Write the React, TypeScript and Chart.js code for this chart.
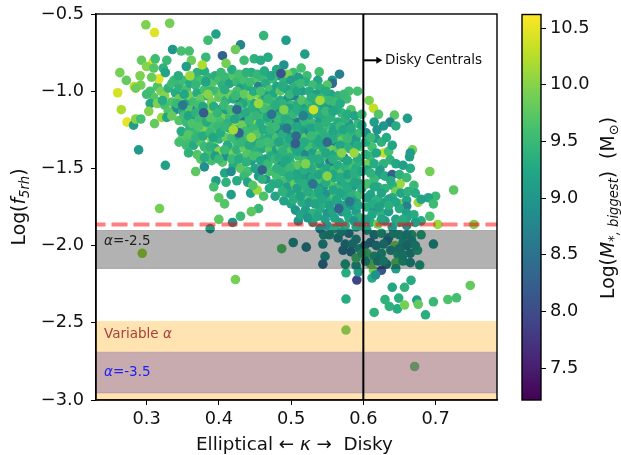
import React, { useEffect, useRef } from "react";
import { Chart, registerables } from "chart.js";

Chart.register(...registerables);

type P = [number, number, number];

// [kappa, log f5rh, log M*,biggest]
const upperLeftPoints: P[] = [
[.299,-.57,9.95],[.332,-.56,9.9],[.311,-.62,10.45],[.396,-.63,9.15],[.385,-.67,9.55],[.462,-.64,9.45],[.493,-.67,9.1],[.430,-.70,8.75],[.423,-.73,9.85],[.336,-.73,9.0],[.348,-.74,9.6],[.359,-.74,9.6],[.405,-.77,8.3],[.382,-.78,9.5],[.435,-.80,9.55],[.449,-.79,9.4],[.458,-.80,9.3],[.468,-.78,9.3],[.293,-.80,9.8],[.309,-.81,10.4],[.312,-.79,9.55],[.328,-.80,9.5],[.362,-.80,9.85],[.377,-.83,10.2],[.410,-.82,9.9],[.300,-.84,10],[.310,-.85,9.7],[.355,-.84,9.1],[.323,-.85,9.4],[.344,-.90,9.35],[.263,-.88,9.9],[.291,-.90,9.95],[.272,-.93,9.8],[.317,-.92,10.45],[.326,-.88,9.2],[.307,-.91,9.85],[.260,-1.01,10.4],[.283,-.97,10.3],[.292,-.96,9.9],[.285,-.98,9.85],[.265,-1.12,10.2],[.303,-1.13,10.0],[.273,-1.20,10.5],[.282,-1.22,9.1],[.285,-1.18,10],[.292,-1.18,9.6],[.311,-1.21,9.8],[.321,-1.17,10.1],[.328,-1.17,9.2],[.335,-1.16,9.8],[.289,-1.38,9.05],[.326,-1.48,9.15],[.368,-1.52,9.75],[.380,-1.49,8.9],[.417,-1.52,8.85],[.396,-1.58,9.1],[.393,-1.62,9.6],[.417,-1.67,9.1],[.400,-1.69,9.75],[.408,-1.73,9.7],[.444,-1.66,9.15],[.453,-1.64,10.1],[.447,-1.61,9.7],[.462,-1.68,9.65],[.318,-1.76,9.9],
];

const leftDensePoints: P[] = [
[.305,-1.0,9.6],[.31,-1.04,9.7],[.30,-1.02,9.55],[.315,-.97,9.65],[.32,-1.0,9.9],[.325,-1.03,10.0],[.33,-.98,9.4],[.335,-.95,9.55],[.34,-1.01,9.3],[.345,-.97,9.4],[.35,-.93,9.55],[.355,-.99,9.6],[.36,-.95,9.3],[.365,-.91,9.55],[.37,-.88,9.4],[.375,-.93,9.6],[.38,-.87,9.3],[.385,-.91,9.4],[.39,-.95,9.7],[.395,-.90,9.35],[.40,-.93,9.6],[.305,-1.08,9.2],[.315,-1.08,9.95],[.325,-1.09,9.6],[.335,-1.07,9.65],[.345,-1.05,9.85],[.355,-1.08,9.2],[.36,-1.03,9.9],[.365,-1.07,9.55],[.37,-1.01,9.3],[.375,-1.05,9.8],[.38,-.99,9.6],[.385,-1.03,9.2],[.39,-1.07,9.9],[.395,-1.0,9.55],[.40,-1.04,9.75],[.34,-1.12,8.9],[.35,-1.13,9.3],[.36,-1.12,9.7],[.365,-1.17,9.1],[.37,-1.12,8.3],[.375,-1.15,9.2],[.38,-1.18,9.6],[.385,-1.11,9.9],[.39,-1.15,10.0],[.395,-1.19,9.7],[.40,-1.12,9.2],[.345,-1.19,9.7],[.355,-1.2,9.5],[.36,-1.24,9.4],[.37,-1.26,9.5],[.375,-1.22,9.1],[.38,-1.25,9.95],[.385,-1.29,10.1],[.39,-1.23,9.6],[.395,-1.27,10.0],[.40,-1.31,9.4],[.35,-1.3,9.75],[.345,-1.33,9.6],[.355,-1.35,9.55],[.36,-1.31,9.6],[.365,-1.35,9.3],[.375,-1.33,9.7],[.38,-1.36,9.5],[.385,-1.4,9.6],[.39,-1.34,9.8],[.395,-1.37,9.3],[.40,-1.39,10.0],[.37,-1.41,9.7],[.375,-1.44,9.75],[.39,-1.45,9.6],[.395,-1.42,9.1],[.405,-1.46,9.7],[.41,-1.42,8.9],
[.405,-.96,9.4],[.41,-.91,9.5],[.415,-.95,9.2],[.42,-.9,9.7],[.425,-.94,9.5],[.43,-.98,9.1],[.435,-.93,9.6],[.44,-.97,9.3],[.445,-.88,9.3],[.45,-.93,9.7],[.455,-.97,8.7],[.46,-.91,9.5],[.465,-.95,9.3],[.47,-.99,9.6],[.405,-1.01,9.8],[.41,-1.06,9.4],[.415,-1.02,9.85],[.42,-1.05,9.3],[.425,-1.0,9.6],[.43,-1.06,8.55],[.435,-1.02,9.8],[.44,-1.07,9.55],[.445,-1.03,9.95],[.45,-1.08,9.25],[.455,-1.02,10.0],[.46,-1.06,9.55],[.465,-1.03,9.1],[.47,-1.08,9.8],
[.405,-1.17,9.9],[.41,-1.12,9.1],[.415,-1.17,9.55],[.42,-1.13,10.0],[.425,-1.21,10.2],[.43,-1.16,9.4],[.435,-1.2,8.45],[.44,-1.13,9.7],[.445,-1.17,9.6],[.45,-1.22,10.1],[.455,-1.13,9.2],[.46,-1.18,9.6],[.465,-1.13,9.4],[.47,-1.2,9.5],[.405,-1.25,9.95],[.41,-1.3,9.8],[.415,-1.24,9.3],[.42,-1.29,10.25],[.425,-1.33,9.5],[.43,-1.26,10.0],[.435,-1.31,9.6],[.44,-1.24,9.3],[.445,-1.28,9.8],[.45,-1.33,9.1],[.455,-1.27,9.6],[.46,-1.31,9.4],[.465,-1.25,9.8],[.47,-1.29,9.3],[.415,-1.37,9.7],[.42,-1.41,9.9],[.425,-1.38,9.4],[.43,-1.43,9.6],[.435,-1.37,9.8],[.44,-1.41,9.7],[.445,-1.45,9.1],[.45,-1.38,9.4],[.455,-1.42,9.6],[.46,-1.37,9.3],[.465,-1.44,9.1],[.47,-1.38,9.7],[.42,-1.48,9.3],[.43,-1.5,9.75],[.44,-1.52,9.6],[.45,-1.5,9.2],[.455,-1.55,9.05],[.46,-1.49,9.5],[.465,-1.57,8.9],[.47,-1.52,9.6],[.475,-1.6,9.3],[.48,-1.55,9.6],[.485,-1.47,8.6],
];

const leftFillPoints: P[] = [
[.338,-.93,9.5],[.352,-1.02,9.25],[.368,-.96,9.45],[.372,-1.09,9.6],[.382,-.94,9.2],[.388,-1.0,9.5],[.393,-1.1,9.3],[.403,-.88,9.5],[.408,-.99,9.35],[.418,-.86,9.3],[.423,-1.03,9.5],[.428,-.89,9.6],[.433,-1.08,9.25],[.438,-.88,9.4],[.443,-.94,9.55],[.448,-1.0,9.3],[.453,-.89,9.45],[.458,-1.0,9.6],[.463,-.87,9.3],[.468,-1.05,9.45],[.472,-.9,9.25],[.322,-1.06,9.3],[.33,-1.13,9.7],[.342,-1.08,9.5],[.352,-1.16,9.55],[.358,-1.16,9.2],[.363,-1.21,9.65],[.368,-1.14,9.4],[.373,-1.18,9.55],[.378,-1.1,9.25],[.383,-1.2,9.3],[.388,-1.17,9.7],[.398,-1.14,9.45],[.402,-1.2,9.6],[.407,-1.09,9.5],[.412,-1.21,9.4],[.417,-1.12,9.6],[.422,-1.18,9.2],[.427,-1.1,9.45],[.432,-1.22,9.85],[.437,-1.14,9.3],[.442,-1.19,9.5],[.447,-1.11,9.35],[.452,-1.16,9.45],[.457,-1.21,9.3],[.462,-1.11,9.6],[.467,-1.17,9.25],[.472,-1.12,9.5],
[.348,-1.26,9.3],[.358,-1.28,9.7],[.368,-1.3,9.45],[.372,-1.23,9.65],[.378,-1.29,9.3],[.388,-1.27,9.5],[.392,-1.3,9.25],[.398,-1.23,9.5],[.402,-1.27,9.3],[.408,-1.23,9.45],[.412,-1.35,9.3],[.418,-1.3,9.55],[.422,-1.25,9.4],[.428,-1.29,9.25],[.432,-1.33,9.45],[.437,-1.26,9.55],[.442,-1.35,9.3],[.448,-1.24,9.5],[.452,-1.28,9.7],[.457,-1.34,9.5],[.462,-1.25,9.3],[.467,-1.33,9.55],[.472,-1.25,9.45],[.358,-1.4,9.4],[.38,-1.43,9.35],[.388,-1.36,9.4],[.4,-1.44,9.5],[.408,-1.38,9.5],[.418,-1.44,9.5],[.428,-1.44,9.3],[.438,-1.46,9.4],[.448,-1.42,9.6],[.458,-1.45,9.25],[.468,-1.47,9.5],[.472,-1.42,9.3],[.435,-1.55,9.5],[.44,-1.59,9.2],[.46,-1.57,9.4],[.47,-1.63,9.3],[.478,-1.68,9.2],[.48,-1.5,9.4],[.478,-1.44,9.5],[.425,-1.58,9.3],[.41,-1.59,9.4],[.408,-1.53,9.25],
];

const centerDensePoints: P[] = [
[.519,-.76,9.1],[.567,-.89,8.7],[.557,-.93,9.0],[.557,-.95,8.4],[.539,-.875,9.6],[.514,-.85,9.6],[.55,-.96,9.7],[.537,-.93,9.2],[.522,-.90,9.55],[.503,-.88,9.55],[.49,-.83,8.9],[.485,-.9,8.9],[.495,-.89,9.9],[.48,-.86,9.3],[.475,-.92,9.5],[.48,-.97,9.2],[.49,-.94,9.4],[.5,-.93,9.1],[.51,-.91,9.1],[.52,-.94,9.35],[.53,-.96,9.55],[.54,-.98,9.4],[.475,-1.02,9.25],[.485,-1.0,9.75],[.495,-.99,9.2],[.505,-.97,9.4],[.515,-1.0,9.1],[.525,-1.0,9.3],[.535,-1.02,9.1],[.545,-1.04,9.6],[.555,-1.02,9.2],[.565,-1.03,9.4],[.475,-1.07,9.6],[.48,-1.12,8.9],[.485,-1.06,9.3],[.49,-1.1,9.6],[.495,-1.05,8.95],[.5,-1.09,9.5],[.505,-1.03,8.7],[.51,-1.08,9.3],[.515,-1.06,9.7],[.52,-1.11,9.1],[.525,-1.07,9.55],[.535,-1.08,9.3],[.545,-1.1,9.2],[.554,-1.09,9.05],[.56,-1.07,9.55],[.57,-1.14,9.45],[.577,-1.05,9.55],[.58,-1.0,9.6],[.592,-1.0,9.6],[.583,-1.12,9.7],
[.475,-1.16,9.7],[.48,-1.2,8.8],[.485,-1.16,9.4],[.49,-1.22,9.1],[.495,-1.14,9.7],[.5,-1.18,8.85],[.505,-1.13,9.3],[.51,-1.2,8.6],[.515,-1.15,9.5],[.52,-1.22,9.3],[.525,-1.16,9.2],[.53,-1.21,9.5],[.535,-1.15,9.4],[.54,-1.19,9.1],[.545,-1.16,9.3],[.55,-1.22,9.55],[.555,-1.17,9.4],[.56,-1.23,9.3],[.565,-1.2,9.3],[.58,-1.21,9.0],[.593,-1.21,9.5],[.575,-1.18,9.4],
[.475,-1.25,9.3],[.48,-1.3,9.6],[.485,-1.25,8.8],[.49,-1.32,9.5],[.495,-1.24,9.2],[.5,-1.29,8.75],[.505,-1.25,9.5],[.51,-1.31,9.6],[.515,-1.26,9.1],[.52,-1.3,9.75],[.525,-1.26,8.85],[.53,-1.32,9.3],[.535,-1.26,9.55],[.54,-1.31,9.2],[.545,-1.27,9.4],[.55,-1.33,9.35],[.555,-1.28,9.6],[.56,-1.33,8.6],[.565,-1.27,9.4],[.57,-1.32,9.8],[.575,-1.28,9.6],[.58,-1.33,9.3],[.585,-1.27,9.4],[.59,-1.31,9.1],[.595,-1.27,9.5],
[.475,-1.34,9.5],[.48,-1.38,9.1],[.485,-1.36,9.8],[.49,-1.41,9.3],[.495,-1.35,9.4],[.5,-1.39,9.7],[.505,-1.36,9.2],[.51,-1.42,9.5],[.515,-1.37,9.3],[.52,-1.41,8.8],[.525,-1.36,9.6],[.53,-1.4,9.1],[.535,-1.35,9.4],[.54,-1.41,9.75],[.545,-1.37,9.3],[.55,-1.43,9.55],[.555,-1.38,9.85],[.56,-1.41,9.2],[.565,-1.37,9.75],[.573,-1.43,8.5],[.554,-1.46,8.6],[.58,-1.37,9.4],[.595,-1.36,9.7],[.588,-1.33,9.1],
[.49,-1.48,9.2],[.495,-1.53,8.95],[.5,-1.47,9.6],[.505,-1.51,9.3],[.51,-1.48,9.75],[.515,-1.53,9.2],[.52,-1.48,9.45],[.525,-1.53,9.0],[.53,-1.47,9.6],[.535,-1.51,9.9],[.54,-1.47,9.1],[.545,-1.52,9.4],[.55,-1.5,9.25],[.56,-1.51,9.5],[.565,-1.48,9.3],[.57,-1.53,9.7],[.575,-1.49,9.4],[.58,-1.52,9.5],[.585,-1.47,9.6],[.59,-1.5,9.3],[.595,-1.46,9.4],
[.49,-1.58,9.6],[.495,-1.62,9.1],[.497,-1.66,9.2],[.507,-1.66,9.25],[.5,-1.57,9.4],[.505,-1.6,9.8],[.51,-1.57,9.3],[.515,-1.63,9.5],[.52,-1.58,9.1],[.525,-1.62,9.6],[.53,-1.56,9.3],[.535,-1.61,9.1],[.54,-1.57,9.6],[.545,-1.62,9.0],[.55,-1.57,9.4],[.555,-1.6,9.75],[.56,-1.56,9.3],[.565,-1.62,9.5],[.57,-1.58,9.1],[.575,-1.6,9.3],[.58,-1.56,9.6],[.585,-1.62,9.05],[.59,-1.56,9.5],[.595,-1.6,9.2],
[.49,-1.71,9.2],[.50,-1.73,9.2],[.455,-1.76,9.5],[.51,-1.68,9.6],[.515,-1.72,9.3],[.52,-1.67,9.8],[.525,-1.72,9.1],[.53,-1.67,9.4],[.535,-1.71,9.6],[.54,-1.67,9.2],[.545,-1.73,9.5],[.55,-1.67,8.95],[.555,-1.71,9.4],[.56,-1.68,9.7],[.566,-1.73,9.1],[.575,-1.68,9.3],[.585,-1.67,9.4],[.59,-1.71,9.1],[.595,-1.67,9.55],
[.506,-1.77,9.0],[.52,-1.77,9.1],[.53,-1.79,9.4],[.54,-1.76,9.3],[.55,-1.79,9.0],[.56,-1.82,9.2],[.57,-1.78,8.9],[.58,-1.82,9.3],[.59,-1.78,9.1],[.595,-1.82,9.4],
[.40,-1.83,9.75],[.388,-1.89,9.1],[.419,-1.85,8.9],[.43,-1.81,9.5],[.445,-1.78,9.75],[.51,-1.84,9.0],[.53,-1.85,9.2],[.55,-1.87,8.9],[.56,-1.89,9.3],[.575,-1.87,9.3],[.58,-1.92,8.7],[.59,-1.88,9.2],[.545,-1.93,9.1],[.565,-1.95,8.8],[.575,-1.99,8.7],[.59,-1.96,8.9],
];

const centerFillPoints: P[] = [
[.488,-.97,9.3],[.498,-1.02,9.45],[.508,-1.0,9.2],[.513,-.95,9.5],[.528,-1.04,9.35],[.538,-1.05,9.4],[.548,-1.0,9.3],[.553,-1.06,9.5],[.568,-1.08,9.3],[.573,-1.02,9.5],[.563,-1.12,9.3],[.488,-1.08,9.4],[.498,-1.11,9.2],[.503,-1.15,9.45],[.508,-1.12,9.35],[.518,-1.13,9.25],[.528,-1.11,9.4],[.538,-1.14,9.3],[.548,-1.13,9.5],[.558,-1.13,9.25],[.578,-1.15,9.3],[.588,-1.16,9.2],[.598,-1.15,9.5],[.478,-1.09,9.35],[.482,-1.18,9.5],[.492,-1.18,9.3],[.498,-1.21,9.4],[.508,-1.23,9.25],[.518,-1.19,9.45],[.528,-1.24,9.2],[.538,-1.23,9.35],[.548,-1.2,9.4],[.558,-1.26,9.2],[.568,-1.23,9.5],[.572,-1.25,9.25],[.583,-1.24,9.3],[.598,-1.22,9.25],[.478,-1.23,9.5],[.488,-1.28,9.35],[.498,-1.31,9.25],[.508,-1.28,9.4],[.518,-1.33,9.3],[.528,-1.29,9.5],[.538,-1.33,9.25],[.548,-1.3,9.35],[.558,-1.31,9.3],[.568,-1.35,9.2],[.578,-1.31,9.5],[.592,-1.35,9.3],[.483,-1.33,9.2],[.488,-1.39,9.4],[.498,-1.43,9.35],[.508,-1.39,9.25],[.518,-1.45,9.5],[.528,-1.44,9.3],[.538,-1.44,9.3],[.548,-1.4,9.25],[.558,-1.44,9.35],[.568,-1.42,9.4],[.578,-1.45,9.25],[.592,-1.43,9.3],[.483,-1.43,9.35],[.488,-1.52,9.4],[.493,-1.45,9.25],[.498,-1.5,9.5],[.508,-1.54,9.2],[.518,-1.51,9.35],[.528,-1.5,9.3],[.538,-1.54,9.2],[.548,-1.55,9.35],[.558,-1.54,9.25],[.568,-1.56,9.3],[.578,-1.54,9.15],[.588,-1.53,9.35],[.598,-1.52,9.25],[.483,-1.6,9.3],[.488,-1.65,9.4],[.498,-1.55,9.3],[.508,-1.63,9.15],[.518,-1.6,9.35],[.528,-1.59,9.25],[.538,-1.64,9.2],[.548,-1.59,9.3],[.558,-1.64,9.25],[.568,-1.66,9.2],[.578,-1.63,9.3],[.588,-1.59,9.2],[.598,-1.63,9.3],[.503,-1.7,9.35],[.513,-1.68,9.15],[.523,-1.65,9.3],[.533,-1.73,9.2],[.543,-1.7,9.25],[.553,-1.74,9.15],[.563,-1.7,9.25],[.573,-1.74,9.2],[.583,-1.74,9.0],[.593,-1.74,9.25],[.513,-1.8,9.2],[.523,-1.82,9.0],[.537,-1.81,9.25],[.547,-1.83,9.1],[.557,-1.78,9.2],[.567,-1.85,9.1],[.577,-1.79,9.25],[.587,-1.84,9.0],[.597,-1.87,9.1],[.54,-1.89,8.8],[.553,-1.93,9.0],[.57,-1.91,9.0],[.585,-1.99,8.9],[.595,-2.02,9.1],[.583,-2.04,8.6],[.59,-2.13,9.1],
];

const rightPoints: P[] = [
[.608,-1.06,9.95],[.614,-1.11,10.3],[.621,-1.15,9.7],[.643,-1.155,9.75],[.661,-1.176,9.1],[.637,-1.20,8.7],[.628,-1.225,9.0],[.645,-1.225,9.3],[.615,-1.20,9.1],[.619,-1.25,8.95],[.604,-1.27,8.9],[.617,-1.305,9.1],[.612,-1.36,9.6],[.628,-1.40,10.3],[.668,-1.38,9.9],[.665,-1.40,9.1],[.664,-1.425,9.1],[.665,-1.50,9.3],[.692,-1.52,9.9],[.651,-1.60,10.1],[.67,-1.61,9.5],[.725,-1.64,9.75],[.70,-1.68,9.5],[.69,-1.69,9.2],[.697,-1.73,9.55],[.676,-1.72,10.1],[.651,-1.73,9.9],[.66,-1.705,9.2],[.66,-1.745,8.7],[.635,-1.39,9.6],[.637,-1.445,9.4],[.628,-1.47,9.4],[.623,-1.51,9.1],[.621,-1.54,9.1],[.63,-1.55,9.3],[.64,-1.54,8.3],[.607,-1.47,9.9],[.605,-1.51,9.2],[.61,-1.42,9.5],[.615,-1.57,9.5],[.605,-1.6,9.6],[.62,-1.62,9.3],[.63,-1.63,9.4],[.64,-1.61,9.4],[.645,-1.65,9.9],[.61,-1.67,9.2],[.62,-1.7,9.4],[.63,-1.72,9.2],[.64,-1.69,9.3],[.65,-1.76,9.3],[.605,-1.75,9.3],[.615,-1.77,9.0],[.625,-1.79,9.4],[.635,-1.78,9.1],[.645,-1.83,9.2],[.66,-1.79,9.1],[.67,-1.8,9.3],[.68,-1.84,9.3],[.692,-1.81,9.6],
[.61,-1.85,9.3],[.62,-1.86,9.9],[.63,-1.84,9.1],[.64,-1.88,9.0],[.65,-1.85,9.3],[.66,-1.87,8.9],[.605,-1.9,9.1],[.615,-1.93,8.8],[.625,-1.92,9.2],[.635,-1.95,8.9],[.65,-1.93,9.1],[.667,-1.93,9.3],[.68,-1.93,9.3],[.602,-2.0,8.7],[.61,-1.98,8.6],[.618,-2.0,8.8],[.633,-1.97,8.5],[.644,-2.0,9.9],[.655,-1.98,9.1],[.667,-1.97,9.0],[.697,-1.99,9.0],[.605,-2.05,9.6],[.615,-2.07,9.2],[.625,-2.05,9.1],[.638,-2.03,9.0],[.648,-2.06,9.2],[.665,-2.05,8.9],[.675,-2.03,9.3],[.61,-2.12,9.8],[.62,-2.1,8.9],[.632,-2.12,8.8],[.645,-2.11,9.7],[.655,-2.1,9.2],[.665,-2.11,9.0],[.678,-2.126,9.2],
[.603,-1.33,9.3],[.61,-1.3,9.5],[.603,-1.41,9.4],[.618,-1.4,9.25],[.625,-1.33,9.4],[.632,-1.3,9.3],[.64,-1.35,9.2],[.615,-1.47,9.3],[.645,-1.47,9.25],[.655,-1.48,9.1],[.65,-1.54,9.4],[.66,-1.56,9.5],[.61,-1.53,9.4],[.638,-1.58,9.3],[.652,-1.66,9.25],[.662,-1.65,9.4],[.672,-1.66,9.3],[.68,-1.7,9.15],[.615,-1.62,9.25],[.625,-1.66,9.2],[.605,-1.69,9.15],[.635,-1.7,9.2],[.645,-1.72,9.25],[.613,-1.73,9.3],[.622,-1.75,9.15],[.635,-1.74,9.35],[.66,-1.82,9.2],[.672,-1.85,9.1],[.655,-1.83,9.3],[.625,-1.83,9.2],[.612,-1.8,9.25],[.603,-1.83,9.1],[.642,-1.92,9.05],[.66,-1.93,9.0],[.628,-1.99,8.9],[.65,-2.02,9.0],[.66,-2.0,8.85],[.672,-2.0,9.1],[.603,-2.1,9.0],[.628,-2.1,9.15],[.655,-2.06,9.05],
[.503,-1.98,8.9],[.521,-2.01,8.7],[.544,-1.99,8.9],[.547,-2.07,9.0],[.572,-2.03,8.6],[.544,-2.12,8.5],[.576,-2.176,9.3],[.576,-2.346,9.3],[.591,-2.223,7.9],[.593,-2.17,9.1],[.576,-2.547,9.7],[.671,-2.783,9.6],[.612,-2.21,9.3],[.614,-2.16,9.9],[.625,-2.16,8.1],[.617,-2.19,8.9],[.645,-2.15,9.1],[.666,-2.225,9.3],[.657,-2.27,9.4],[.64,-2.27,9.2],[.63,-2.35,9.4],[.649,-2.34,9.35],[.636,-2.394,9.4],[.647,-2.41,9.3],[.657,-2.385,9.9],[.674,-2.353,9.1],[.676,-2.38,9.8],[.697,-2.364,9.5],[.717,-2.349,9.65],[.729,-2.338,9.6],[.748,-2.258,9.8],[.686,-2.448,9.35],[.615,-2.433,9.4],[.753,-1.863,9.95],[.703,-1.863,10.1],[.487,-2.02,9.7],[.294,-2.05,10.1],[.423,-2.22,9.9],[.575,-2.12,9.2],[.59,-2.08,9.6],[.598,-2.05,9.4],
];

// distinct dark and bright marks that sit on top of the dense cloud
const accentPoints: P[] = [
[.379,-1.14,8.2],[.428,-1.27,8.3],[.425,-1.12,8.4],[.46,-1.51,8.3],[.486,-.885,8.1],[.473,-1.15,8.5],[.494,-1.24,8.6],[.507,-1.29,8.4],[.35,-1.09,8.6],[.506,-1.34,8.2],[.517,-1.16,8.7],[.566,-1.76,8.3],[.581,-1.715,8.6],[.55,-1.33,8.4],[.53,-1.6,8.5],
[.42,-1.25,10.15],[.36,-.9,10.1],[.455,-1.08,10.1],[.531,-1.12,10.35],[.54,-1.06,10.15],[.587,-1.4,10.1],[.385,-1.02,10.0],[.445,-1.3,10.05],[.57,-1.4,10.0],[.49,-1.12,9.95],[.52,-1.47,9.95],[.55,-1.55,10.0],
];

const allPoints: P[] = [...leftDensePoints, ...centerDensePoints, ...leftFillPoints, ...centerFillPoints, ...upperLeftPoints, ...rightPoints, ...accentPoints];

const kappaRange = [0.23, 0.785];
const logFRange = [-3.0, -0.5];
const massRange = [7.22, 10.62];
const kappaCut = 0.6;
const dashedLevel = -1.863;
const grayBand = [-1.902, -2.148];
const orangeBand = [-2.49, -3.0];
const purpleBand = [-2.69, -2.955];
const viridisStops = ["#440154", "#482475", "#414487", "#355f8d", "#2a788e", "#21918c", "#22a884", "#44bf70", "#7ad151", "#bddf26", "#fde725"];

function viridis(m: number): string {
  const t = Math.max(0, Math.min(1, (m - massRange[0]) / (massRange[1] - massRange[0]))) * 10;
  const i = Math.min(9, Math.floor(t));
  const f = t - i;
  const a = parseInt(viridisStops[i].slice(1), 16);
  const b = parseInt(viridisStops[i + 1].slice(1), 16);
  const ch = (s: number) => Math.round(((a >> s) & 255) * (1 - f) + ((b >> s) & 255) * f);
  return `rgb(${ch(16)},${ch(8)},${ch(0)})`;
}

const FONT = '"DejaVu Sans"';
type Run = { t: string; i?: boolean; sub?: boolean };

function drawRuns(ctx: CanvasRenderingContext2D, x: number, y: number, runs: Run[], size: number, color: string, rotate = false) {
  const fontOf = (r: Run) => `${r.i ? "italic " : ""}${r.sub ? size * 0.7 : size}px ${FONT}`;
  let w = 0;
  for (const r of runs) { ctx.font = fontOf(r); w += ctx.measureText(r.t).width; }
  ctx.save();
  ctx.translate(x, y);
  if (rotate) ctx.rotate(-Math.PI / 2);
  ctx.fillStyle = color;
  ctx.textBaseline = "alphabetic";
  ctx.textAlign = "left";
  let cx = rotate ? -w / 2 : 0;
  for (const r of runs) {
    ctx.font = fontOf(r);
    ctx.fillText(r.t, cx, r.sub ? size * 0.22 : 0);
    cx += ctx.measureText(r.t).width;
  }
  ctx.restore();
}

function band(range: number[], color: string, edge: string, order: number) {
  const pts = (v: number) => kappaRange.map((k) => ({ x: k, y: v }));
  return [
    { type: "line", data: pts(range[0]), fill: { value: range[1] }, backgroundColor: color, borderColor: edge, borderWidth: 1, pointRadius: 0, order },
    { type: "line", data: pts(range[1]), fill: false, borderColor: edge, borderWidth: 1, pointRadius: 0, order },
  ];
}

const annotate = {
  id: "annotate",
  afterDraw(chart: any) {
    const { ctx, chartArea: a, scales } = chart;
    ctx.save();
    ctx.strokeStyle = "#000";
    ctx.lineWidth = 1.4;
    ctx.strokeRect(a.left, a.top, a.right - a.left, a.bottom - a.top);
    const ax = scales.x.getPixelForValue(kappaCut);
    const ay = scales.y.getPixelForValue(-0.8);
    ctx.lineWidth = 2;
    ctx.beginPath(); ctx.moveTo(ax, ay); ctx.lineTo(ax + 15, ay); ctx.stroke();
    ctx.fillStyle = "#000";
    ctx.beginPath(); ctx.moveTo(ax + 19, ay); ctx.lineTo(ax + 13, ay - 3.5); ctx.lineTo(ax + 13, ay + 3.5); ctx.closePath(); ctx.fill();
    ctx.restore();
    drawRuns(ctx, 385, 64, [{ t: "Disky Centrals" }], 13.5, "#111");
    drawRuns(ctx, 104, 245, [{ t: "α", i: true }, { t: "=-2.5" }], 13.5, "#222");
    drawRuns(ctx, 104, 338, [{ t: "Variable " }, { t: "α", i: true }], 13.5, "#a8403a");
    drawRuns(ctx, 104, 376, [{ t: "α", i: true }, { t: "=-3.5" }], 13.5, "#2020f0");
    drawRuns(ctx, 196, 450, [{ t: "Elliptical" }, { t: " ← " }, { t: "κ", i: true }, { t: " →" }, { t: "  Disky" }], 18.3, "#111");
    drawRuns(ctx, 25, 207, [{ t: "Log(" }, { t: "f", i: true }, { t: "5rh", i: true, sub: true }, { t: ")" }], 18.8, "#111", true);
  },
};

const colorbarFrame = {
  id: "colorbarFrame",
  afterDraw(chart: any) {
    const { ctx, chartArea: a } = chart;
    ctx.save();
    ctx.strokeStyle = "#000";
    ctx.lineWidth = 1.4;
    ctx.strokeRect(a.left, a.top, a.right - a.left, a.bottom - a.top);
    ctx.restore();
    drawRuns(ctx, 614, 208, [{ t: "Log(" }, { t: "M", i: true }, { t: "*, biggest", i: true, sub: true }, { t: ")  (M" }, { t: "⊙", sub: true }, { t: ")" }], 18.8, "#111", true);
  },
};

const tickFont = { family: FONT, size: 17.8 };
const noPadding = (s: any) => { s.paddingTop = 0; s.paddingBottom = 0; s.paddingLeft = 0; s.paddingRight = 0; };

export default function App() {
  const mainRef = useRef<HTMLCanvasElement>(null);
  const barRef = useRef<HTMLCanvasElement>(null);

  useEffect(() => {
    const main = new Chart(mainRef.current!, {
      type: "scatter",
      data: {
        datasets: [
          {
            data: allPoints.map((p) => ({ x: p[0], y: p[1] })),
            backgroundColor: allPoints.map((p) => viridis(p[2])),
            pointRadius: 4.8,
            pointBorderWidth: 0,
            order: 5,
          },
          ...band(grayBand, "rgba(0,0,0,0.3)", "rgba(0,0,0,0.22)", 4),
          ...band(orangeBand, "rgba(255,165,0,0.3)", "rgba(255,165,0,0.1)", 3),
          ...band(purpleBand, "rgba(73,40,167,0.3)", "rgba(73,40,167,0.2)", 2),
          { type: "line", data: kappaRange.map((k) => ({ x: k, y: dashedLevel })), borderColor: "rgba(255,0,0,0.5)", borderWidth: 4, borderDash: [16, 6], borderDashOffset: 6.5, pointRadius: 0, order: 1 },
          { type: "line", data: logFRange.map((v) => ({ x: kappaCut, y: v })), borderColor: "#000", borderWidth: 2, pointRadius: 0, order: 0 },
        ] as any,
      },
      options: {
        animation: false,
        responsive: false,
        events: [],
        layout: { autoPadding: false, padding: { left: 0, right: 124, top: 14, bottom: 0 } },
        plugins: { legend: { display: false }, tooltip: { enabled: false } },
        scales: {
          x: {
            type: "linear",
            min: kappaRange[0],
            max: kappaRange[1],
            afterFit: (s: any) => { s.height = 55; noPadding(s); },
            afterBuildTicks: (s: any) => { s.ticks = [0.3, 0.4, 0.5, 0.6, 0.7].map((value) => ({ value })); },
            grid: { drawOnChartArea: false, tickLength: 5, color: "#000" },
            border: { color: "#000", width: 1.4 },
            ticks: { font: tickFont, color: "#111", padding: 4, maxRotation: 0, callback: (v: any) => Number(v).toFixed(1) },
          },
          y: {
            type: "linear",
            min: logFRange[0],
            max: logFRange[1],
            afterFit: (s: any) => { s.width = 96; noPadding(s); },
            grid: { drawOnChartArea: false, tickLength: 5, color: "#000" },
            border: { color: "#000", width: 1.4 },
            ticks: { font: tickFont, color: "#111", padding: 7, stepSize: 0.5, callback: (v: any) => Number(v).toFixed(1).replace("-", "\u2212") },
          },
        },
      } as any,
      plugins: [annotate],
    });

    const bar = new Chart(barRef.current!, {
      type: "bar",
      data: {
        labels: ["mass"],
        datasets: [
          {
            data: [massRange],
            barPercentage: 1,
            categoryPercentage: 1,
            borderWidth: 0,
            backgroundColor: (c: any) => {
              const a = c.chart.chartArea;
              if (!a) return "#000";
              const g = c.chart.ctx.createLinearGradient(0, a.bottom, 0, a.top);
              viridisStops.forEach((s, i) => g.addColorStop(i / 10, s));
              return g;
            },
          },
        ] as any,
      },
      options: {
        animation: false,
        responsive: false,
        events: [],
        layout: { autoPadding: false, padding: { left: 522, right: 0, top: 14.5, bottom: 55 } },
        plugins: { legend: { display: false }, tooltip: { enabled: false } },
        scales: {
          x: { display: false },
          y: {
            position: "right",
            min: massRange[0],
            max: massRange[1],
            afterFit: (s: any) => { s.width = 80; noPadding(s); },
            grid: { drawOnChartArea: false, tickLength: 5, color: "#000" },
            border: { display: false },
            ticks: { font: tickFont, color: "#111", padding: 4, stepSize: 0.5, includeBounds: false, callback: (v: any) => Number(v).toFixed(1) },
          },
        },
      } as any,
      plugins: [colorbarFrame],
    });

    return () => { main.destroy(); bar.destroy(); };
  }, []);

  return (
    <div style={{ position: "absolute", left: 0, top: 0, width: 621, height: 455, background: "#fff", overflow: "hidden" }}>
      <canvas ref={mainRef} width={621} height={455} style={{ position: "absolute", left: 0, top: 0 }} />
      <canvas ref={barRef} width={621} height={455} style={{ position: "absolute", left: 0, top: 0 }} />
    </div>
  );
}
